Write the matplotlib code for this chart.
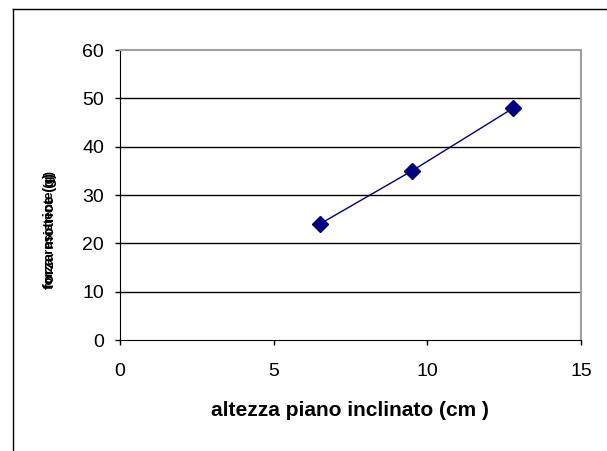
import matplotlib
matplotlib.use("Agg")
from matplotlib import pyplot as plt
from matplotlib.lines import Line2D

plt.rcParams['font.family'] = ['Liberation Sans', 'DejaVu Sans']

altezza = [6.5, 9.5, 12.8]
forza = [24, 35, 48]
xticks = [0, 5, 10, 15]
yticks = [0, 10, 20, 30, 40, 50, 60]

fig = plt.figure(figsize=(6.07, 4.51), dpi=100)
ax = fig.add_axes([0.1977, 0.246, 0.7593, 0.643])

ax.plot(altezza, forza, color='#000080', lw=1, marker='D', ms=8,
        markerfacecolor='#000080', markeredgecolor='#000080', zorder=3)

ax.set_xlim(0, 15)
ax.set_ylim(0, 60)
ax.set_xticks(xticks)
ax.set_yticks(yticks)
for y in yticks[1:-1]:
    ax.axhline(y, color='black', lw=1, zorder=1)

ax.tick_params(direction='out', length=3.6, width=1, labelsize=14)
ax.tick_params(axis='x', pad=13)
ax.tick_params(axis='y', pad=8)
for s in ['top', 'right']:
    ax.spines[s].set_color('#a0a0a0')
    ax.spines[s].set_linewidth(1.5)
for s in ['left', 'bottom']:
    ax.spines[s].set_color('black')

fig.text(350 / 607, 1 - 410 / 451, 'altezza piano inclinato (cm )', fontsize=15,
         fontweight='bold', ha='center', va='center')

# overlapping y labels as in the original
fig.text(0.083, 0.49, 'forza motrice (g)', rotation=90, fontsize=10.5,
         fontweight='bold', ha='center', va='center')
fig.text(0.083, 0.49, 'forza resistente (g)', rotation=90, fontsize=9.5,
         fontweight='bold', ha='center', va='center')

fig.add_artist(Line2D([0.0214, 1.0], [0.980, 0.980], color='black', lw=1))
fig.add_artist(Line2D([0.0214, 0.0214], [0.0, 0.980], color='black', lw=1))

fig.savefig('out.png', dpi=100)
